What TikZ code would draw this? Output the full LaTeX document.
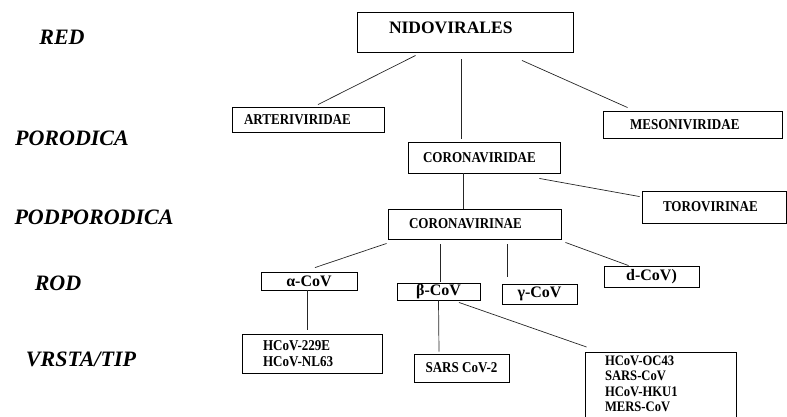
\documentclass[tikz,border=0pt]{standalone}
\usepackage{fontspec}
\setmainfont{Liberation Serif}
\newfontfamily\condfont[FakeStretch=0.87]{Liberation Serif}
\usepackage{tikz}
\usetikzlibrary{shapes}
\tikzstyle{line} = [draw, line width=0.7pt, black!85]
\tikzstyle{rank} = [font=\fontsize{22}{24}\selectfont\bfseries\itshape, inner sep=0pt]
\tikzstyle{fam} = [rectangle, draw, line width=0.9pt, align=left, inner ysep=0pt, font=\condfont\fontsize{15}{17}\selectfont\bfseries]
\tikzstyle{genus} = [rectangle, draw, line width=0.9pt, inner ysep=0pt, inner xsep=0pt, font=\fontsize{16}{18}\selectfont\bfseries]
\tikzstyle{species} = [rectangle, draw, line width=0.9pt, align=left, font=\condfont\fontsize{15}{16}\selectfont\bfseries]

\begin{document}
\begin{tikzpicture}[x=1pt, y=-1pt]
		\useasboundingbox (0,0) rectangle (787,416);
		
		% ranks on the left
		\node[rank] (rank_red) at (62,37) {RED};
		\node[rank] (rank_por) at (72,138) {PORODICA};
		\node[rank] (rank_podpor) at (94,217) {PODPORODICA};
		\node[rank] (rank_rod) at (58,283) {ROD};
		\node[rank] (rank_vrsta) at (81,359) {VRSTA/TIP};
		
		% order and families
		\node[fam, font=\fontsize{17.5}{19}\selectfont\bfseries, text width=152pt, inner xsep=32pt, minimum height=40pt, text depth=8pt] (nido) at (465,32) {NIDOVIRALES};
		\node[fam, text width=128pt, inner xsep=12pt, minimum height=25pt] (arteri) at (308,119.5) {ARTERIVIRIDAE};
		\node[fam, text width=125pt, inner xsep=27pt, minimum height=27pt] (meso) at (692.5,124.5) {MESONIVIRIDAE};
		\node[fam, text width=122pt, inner xsep=15pt, minimum height=31pt] (corona_fam) at (484,157.5) {CORONAVIRIDAE};
		
		\path [line] ([xshift=59pt, yshift=-3pt]nido.south west) to ([xshift=10pt, yshift=2pt]arteri.north);
		\path [line] ([xshift=-4pt, yshift=-7pt]nido.south) to ([xshift=-23pt, yshift=3pt]corona_fam.north);
		\path [line] ([xshift=57pt, yshift=-8pt]nido.south) to ([xshift=25pt, yshift=3pt]meso.north west);
		
		% subfamilies
		\node[fam, text width=102pt, inner xsep=21pt, minimum height=32pt] (toro) at (714,207) {TOROVIRINAE};
		\node[fam, text width=131pt, inner xsep=21pt, minimum height=30pt] (corona_sub) at (474.5,224) {CORONAVIRINAE};
		
		\path [line] ([xshift=-21pt]corona_fam.south) to ([xshift=-11.5pt]corona_sub.north);
		\path [line] ([xshift=-21pt, yshift=-5pt]corona_fam.south east) to ([xshift=-2pt, yshift=-6pt]toro.north west);
		
		% genera
		\node[genus, minimum width=96pt, minimum height=18pt] (cov_a) at (309,281) {α-CoV};
		\node[genus, minimum width=83pt, minimum height=17pt] (cov_b) at (438.5,291.5) {β-CoV\hspace{4pt}};
		\node[genus, minimum width=75pt, minimum height=20pt] (cov_g) at (539.5,294) {γ-CoV\hspace{6pt}};
		\node[genus, minimum width=95pt, minimum height=21pt] (cov_d) at (651.5,276.5) {d-CoV)\hspace{8pt}};
		
		\path [line] ([xshift=-1pt, yshift=-4pt]corona_sub.south west) to ([xshift=6pt, yshift=4pt]cov_a.north);
		\path [line] ([xshift=-34.5pt, yshift=-5pt]corona_sub.south) to ([xshift=1.5pt, yshift=1pt]cov_b.north);
		\path [line] ([xshift=32.5pt, yshift=-5pt]corona_sub.south) to ([xshift=-32.5pt, yshift=7pt]cov_g.north);
		\path [line] ([xshift=4pt, yshift=-3pt]corona_sub.south east) to ([xshift=25pt]cov_d.north west);
		
		% species
		\node[species, text width=98pt, inner xsep=21pt, minimum height=39pt] (sp_a) at (312,353.5) {HCoV-229E\\HCoV-NL63};
		\node[genus, font=\condfont\fontsize{15}{16}\selectfont\bfseries, minimum width=95pt, minimum height=28pt] (sp_b1) at (461.5,368) {SARS CoV-2};
		\node[species, font=\condfont\fontsize{14.5}{15.3}\selectfont\bfseries, text width=111pt, inner xsep=20pt, inner ysep=3.5pt, anchor=north] (sp_b2) at (660.5,352) {HCoV-OC43\\SARS-CoV\\HCoV-HKU1\\MERS-CoV\rule[-10pt]{0pt}{10pt}};
		
		\path [line] ([xshift=-2pt]cov_a.south) to ([xshift=-5pt, yshift=4pt]sp_a.north);
		\path [line] (cov_b.south) to ([xshift=-22.5pt, yshift=2pt]sp_b1.north);
		\path [line] ([xshift=20.5pt, yshift=-2pt]cov_b.south) to ([xshift=2pt, yshift=5pt]sp_b2.north west);
	\end{tikzpicture}
\end{document}
